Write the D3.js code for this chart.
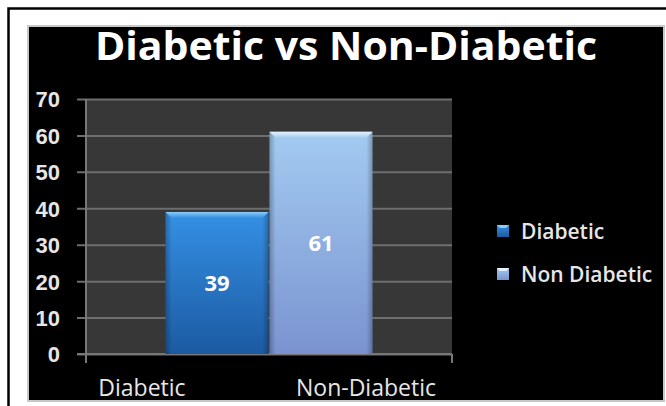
<!DOCTYPE html>
<html>
<head>
<meta charset="utf-8">
<script src="https://cdn.jsdelivr.net/npm/d3@7"></script>
<style>
    body { margin: 0; background: #fff; }
    svg { display: block; font-family: "Open Sans", "Lato", sans-serif; }
</style>
</head>
<body>
<svg id="drawing_region"></svg>
<script>
const categories = ["Group"];
const seriesNames = ["Diabetic", "Non Diabetic"];
const seriesValues = [39, 61];
const xLabels = ["Diabetic", "Non-Diabetic"];
const yTicks = [0, 10, 20, 30, 40, 50, 60, 70];
const titleText = "Diabetic vs Non-Diabetic";

const width = 666, height = 406;
const panel = { x: 29, y: 27, w: 634, h: 373 };
const plot = { left: 86, right: 452, top: 99, bottom: 354 };

const svg = d3.select('#drawing_region')
    .attr('width', width)
    .attr('height', height);

const defs = svg.append('defs');

// bar gradients (top -> bottom)
const barColors = [
    { top: '#3590e4', bottom: '#1c5aa2', bevel: '#8cccf7', edge: '#164a88' },
    { top: '#a3cbf1', bottom: '#7a93d0', bevel: '#e6f3ff', edge: '#6a80b8' }
];
barColors.forEach((c, i) => {
    const g = defs.append('linearGradient')
        .attr('id', 'bar' + i).attr('x1', 0).attr('y1', 0).attr('x2', 0).attr('y2', 1);
    g.append('stop').attr('offset', '0%').attr('stop-color', c.top);
    g.append('stop').attr('offset', '100%').attr('stop-color', c.bottom);
    const b = defs.append('linearGradient')
        .attr('id', 'bevel' + i).attr('x1', 0).attr('y1', 0).attr('x2', 0).attr('y2', 1);
    b.append('stop').attr('offset', '0%').attr('stop-color', c.bevel);
    b.append('stop').attr('offset', '100%').attr('stop-color', c.top);
});
// darker left/right edges
const side = defs.append('linearGradient').attr('id', 'side').attr('x1', 0).attr('x2', 1);
side.append('stop').attr('offset', '0%').attr('stop-color', '#000').attr('stop-opacity', 0.25);
side.append('stop').attr('offset', '6%').attr('stop-color', '#000').attr('stop-opacity', 0);
side.append('stop').attr('offset', '94%').attr('stop-color', '#000').attr('stop-opacity', 0);
side.append('stop').attr('offset', '100%').attr('stop-color', '#000').attr('stop-opacity', 0.25);

defs.append('clipPath').attr('id', 'panelClip')
    .append('rect')
    .attr('x', panel.x).attr('y', panel.y).attr('width', panel.w).attr('height', panel.h);

// outer frame
svg.append('rect')
    .attr('x', 8.5).attr('y', 8.5).attr('width', 670).attr('height', 420)
    .attr('fill', 'none').attr('stroke', '#000').attr('stroke-width', 2.5);

// black panel with a soft grey edge
svg.append('rect')
    .attr('x', panel.x - 2).attr('y', panel.y - 2).attr('width', panel.w + 4).attr('height', panel.h + 4)
    .attr('fill', '#c8c8c8');
svg.append('rect')
    .attr('x', panel.x).attr('y', panel.y).attr('width', panel.w).attr('height', panel.h)
    .attr('fill', '#000');

const chart = svg.append('g').attr('clip-path', 'url(#panelClip)');

// scales
const y = d3.scaleLinear().domain([0, 70]).range([plot.bottom, plot.top]);
const x0 = d3.scaleBand().domain(categories).range([plot.left, plot.right])
    .paddingInner(0).paddingOuter(0.38);
const x1 = d3.scaleBand().domain(seriesNames).range([0, x0.bandwidth()]);
const xLab = d3.scaleBand().domain(xLabels).range([panel.x + 1, panel.x + 449]);

// plot area
chart.append('rect')
    .attr('x', plot.left).attr('y', plot.top)
    .attr('width', plot.right - plot.left).attr('height', plot.bottom - plot.top)
    .attr('fill', '#373737');

// y axis with gridlines
const yAxis = d3.axisLeft(y)
    .tickValues(yTicks)
    .tickSize(-(plot.right - plot.left))
    .tickPadding(0);
const ya = chart.append('g')
    .attr('transform', `translate(${plot.left},0)`)
    .call(yAxis);
ya.select('.domain').remove();
ya.selectAll('.tick line')
    .attr('x1', -9)
    .attr('stroke', '#6e6e6e')
    .attr('stroke-width', 2);
ya.selectAll('.tick text')
    .attr('x', -26)
    .attr('dy', '0.36em')
    .attr('fill', '#e6e6e6')
    .attr('font-size', 22)
    .attr('font-weight', 600)
    .attr('text-anchor', 'end');

// axis lines
chart.append('line')
    .attr('x1', plot.left).attr('x2', plot.left)
    .attr('y1', plot.top).attr('y2', plot.bottom + 9)
    .attr('stroke', '#777').attr('stroke-width', 2);
chart.append('line')
    .attr('x1', plot.right).attr('x2', plot.right)
    .attr('y1', plot.bottom).attr('y2', plot.bottom + 9)
    .attr('stroke', '#777').attr('stroke-width', 2);
chart.append('line')
    .attr('x1', plot.left - 9).attr('x2', plot.right)
    .attr('y1', plot.bottom).attr('y2', plot.bottom)
    .attr('stroke', '#777').attr('stroke-width', 2);

// bars
const bars = chart.append('g')
    .selectAll('g')
    .data(seriesValues.map((v, i) => ({ name: seriesNames[i], value: v, i: i })))
    .join('g')
    .attr('transform', d => `translate(${x0(categories[0]) + x1(d.name)},0)`);

bars.append('rect')
    .attr('x', 0.5)
    .attr('y', d => y(d.value))
    .attr('width', x1.bandwidth() - 1)
    .attr('height', d => y(0) - y(d.value))
    .attr('fill', d => `url(#bar${d.i})`);
bars.append('rect')
    .attr('x', 0.5)
    .attr('y', d => y(d.value))
    .attr('width', x1.bandwidth() - 1)
    .attr('height', d => y(0) - y(d.value))
    .attr('fill', 'url(#side)');
bars.append('path')
    .attr('d', d => {
        const t = y(d.value), w = x1.bandwidth() - 1;
        return `M0.5,${t} L${w + 0.5},${t} L${w - 5.5},${t + 6} L6.5,${t + 6} Z`;
    })
    .attr('fill', d => `url(#bevel${d.i})`);

bars.append('text')
    .attr('x', x1.bandwidth() / 2)
    .attr('y', d => (y(d.value) + y(0)) / 2)
    .attr('dy', '0.36em')
    .attr('text-anchor', 'middle')
    .attr('fill', '#fff')
    .attr('font-size', 22)
    .attr('font-weight', 'bold')
    .text(d => d.value);

// category labels under the axis
chart.selectAll('.xlab')
    .data(xLabels)
    .join('text')
    .attr('class', 'xlab')
    .attr('x', d => xLab(d) + xLab.bandwidth() / 2)
    .attr('y', 396)
    .attr('text-anchor', 'middle')
    .attr('fill', '#e6e6e6')
    .attr('font-size', 23)
    .text(d => d);

// title
chart.append('text')
    .attr('x', 346)
    .attr('y', 60)
    .attr('text-anchor', 'middle')
    .attr('fill', '#fff')
    .attr('font-size', 40)
    .attr('font-weight', 'bold')
    .attr('textLength', 502)
    .attr('lengthAdjust', 'spacingAndGlyphs')
    .text(titleText);

// legend
const legend = chart.append('g')
    .selectAll('g')
    .data(seriesNames)
    .join('g')
    .attr('transform', (d, i) => `translate(497,${231 + i * 43})`);
legend.append('rect')
    .attr('x', 0).attr('y', -6).attr('width', 12).attr('height', 12)
    .attr('fill', (d, i) => `url(#bar${i})`);
legend.append('path')
    .attr('d', 'M0,-6 L12,-6 L9,-3 L3,-3 Z')
    .attr('fill', (d, i) => barColors[i].bevel);
legend.append('text')
    .attr('x', 24)
    .attr('dy', '0.36em')
    .attr('fill', '#e6e6e6')
    .attr('font-size', 21)
    .attr('font-weight', 600)
    .text(d => d);
</script>
</body>
</html>
